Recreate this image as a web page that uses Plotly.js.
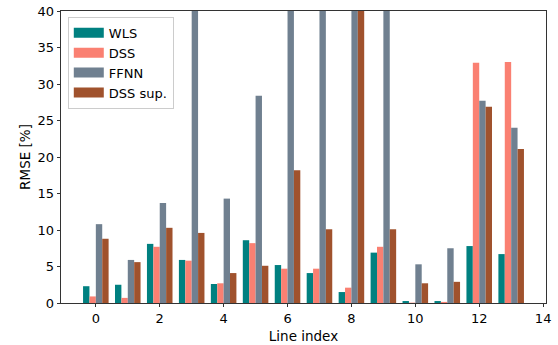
<!DOCTYPE html>
<html>
<head>
<meta charset="utf-8">
<script src="https://cdn.plot.ly/plotly-3.0.1.min.js"></script>
<style>html,body{margin:0;padding:0;background:#fff;}#chart{width:558px;height:345px;}</style>
</head>
<body>
<div id="chart"></div>
<script>
const lineIndex = [0,1,2,3,4,5,6,7,8,9,10,11,12,13];
const seriesNames = ["WLS", "DSS", "FFNN", "DSS sup."];
const wls    = [2.3, 2.5, 8.1, 5.9, 2.6, 8.6, 5.2, 4.1, 1.5, 6.9, 0.27, 0.27, 7.8, 6.7];
const dss    = [0.9, 0.7, 7.7, 5.8, 2.7, 8.2, 4.7, 4.7, 2.1, 7.7, 0.05, 0.15, 32.9, 33.0];
const ffnn   = [10.8, 5.9, 13.7, 55.0, 14.3, 28.4, 62.0, 70.0, 85.0, 58.0, 5.3, 7.5, 27.7, 24.0];
const dssSup = [8.8, 5.6, 10.3, 9.6, 4.1, 5.1, 18.2, 10.1, 48.0, 10.1, 2.7, 2.9, 26.9, 21.1];
const colors = ["#008080", "#FA8072", "#708090", "#A0522D"];
const xTicks = [0,2,4,6,8,10,12,14];
const yTicks = [0,5,10,15,20,25,30,35,40];

const allSeries = [wls, dss, ffnn, dssSup];
const traces = allSeries.map((vals, i) => ({
  type: "bar",
  x: lineIndex,
  y: vals,
  name: seriesNames[i],
  marker: {color: colors[i], line: {width: 0}},
  showlegend: false
}));
// legend entries drawn as wide patches (matplotlib-style)
seriesNames.forEach((nm, i) => {
  traces.push({
    type: "scatter", mode: "lines",
    x: [null], y: [null],
    name: nm,
    line: {color: colors[i], width: 10},
    showlegend: true
  });
});

const tickFont = {family: "DejaVu Sans, sans-serif", size: 13, color: "#000"};
const titleFont = {family: "DejaVu Sans, sans-serif", size: 13.5, color: "#000"};
const legendFont = {family: "DejaVu Sans, sans-serif", size: 13, color: "#000"};
const layout = {
  width: 558, height: 345,
  margin: {l: 61, r: 12, t: 11, b: 42, pad: 0},
  paper_bgcolor: "#fff", plot_bgcolor: "#fff",
  font: tickFont,
  barmode: "group", bargap: 0.2, bargroupgap: 0,
  showlegend: true,
  legend: {
    x: 0.014, y: 0.98, xanchor: "left", yanchor: "top",
    bgcolor: "rgba(255,255,255,0.8)", bordercolor: "#cccccc", borderwidth: 1,
    font: legendFont,
    tracegroupgap: 0, itemwidth: 30
  },
  xaxis: {
    range: [-1.09, 14.09], tickmode: "array", tickvals: xTicks,
    ticks: "outside", ticklen: 3.5, tickwidth: 0.8, tickcolor: "#000",
    tickfont: tickFont,
    showline: true, linecolor: "#000", linewidth: 0.8, mirror: true,
    showgrid: false, zeroline: false,
    title: {text: "Line index", font: titleFont, standoff: 6}
  },
  yaxis: {
    range: [0, 40], tickmode: "array", tickvals: yTicks,
    ticks: "outside", ticklen: 3.5, tickwidth: 0.8, tickcolor: "#000",
    tickfont: tickFont,
    showline: true, linecolor: "#000", linewidth: 0.8, mirror: true,
    showgrid: false, zeroline: false,
    title: {text: "RMSE [%]", font: titleFont, standoff: 3}
  }
};
Plotly.newPlot("chart", traces, layout, {displayModeBar: false, staticPlot: true});
</script>
</body>
</html>
